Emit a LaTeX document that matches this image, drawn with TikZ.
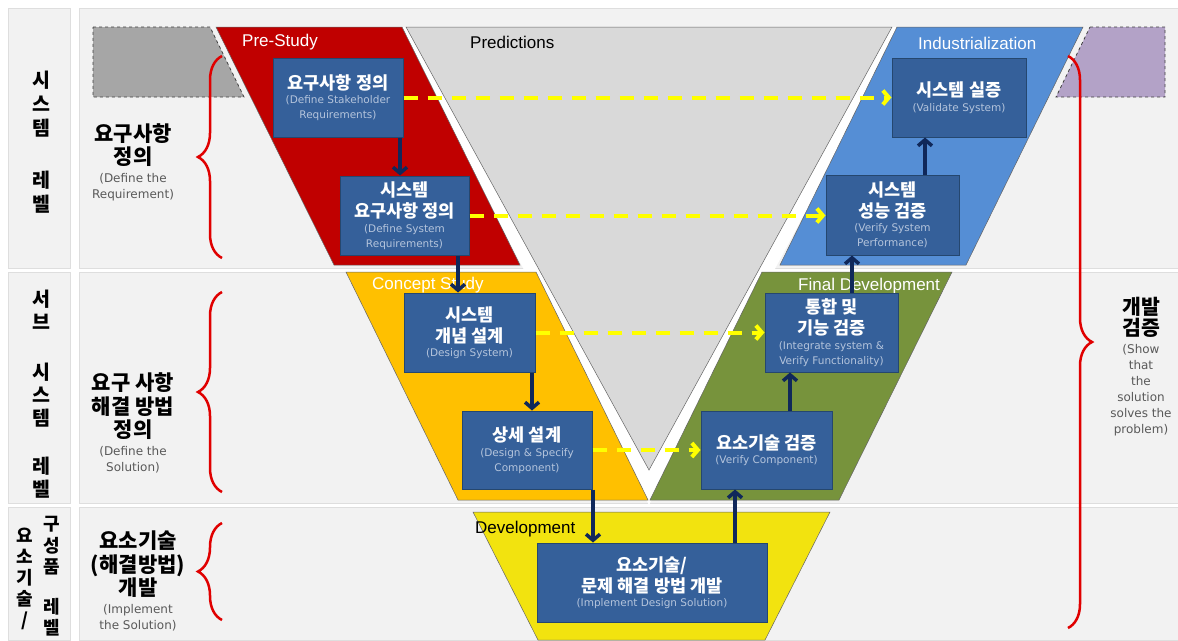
\documentclass[tikz,border=0pt]{standalone}
\usepackage{fontspec}
\setmainfont{Liberation Sans}
\newfontfamily\kr{Noto Sans CJK KR}
\newfontfamily\lat{DejaVu Sans}
\usetikzlibrary{arrows.meta,decorations.pathreplacing}

\definecolor{panel}{HTML}{F2F2F2}
\definecolor{panelline}{HTML}{DEDEDE}
\definecolor{stone}{HTML}{A6A6A6}
\definecolor{lilac}{HTML}{B3A2C7}
\definecolor{prestudy}{HTML}{C00000}
\definecolor{concept}{HTML}{FFC000}
\definecolor{finaldev}{HTML}{77933C}
\definecolor{industrial}{HTML}{558ED5}
\definecolor{develop}{HTML}{F2E30F}
\definecolor{predict}{HTML}{D9D9D9}
\definecolor{taskfill}{HTML}{35609A}
\definecolor{taskline}{HTML}{25476F}
\definecolor{subtext}{HTML}{B4C4DC}
\definecolor{navy}{HTML}{10285A}
\definecolor{checkyellow}{HTML}{FFFF00}
\definecolor{bracered}{HTML}{E00000}
\definecolor{note}{HTML}{595959}

% small english lines
\newcommand{\en}[1]{{\lat\fontsize{10.5}{12}\selectfont\mdseries\color{subtext}#1}}
\newcommand{\gr}[1]{{\lat\fontsize{12}{14}\selectfont\mdseries\color{note}#1}}

\tikzset{
  phase/.style={draw=black!60, line width=0.5pt},
  ghost/.style={draw=black!75, dashed, line width=0.8pt},
  task/.style={draw=taskline, fill=taskfill, line width=1pt, inner sep=0pt,
    align=center, text=white, font=\kr\fontsize{17.5}{21}\selectfont\bfseries},
  phasename/.style={font=\fontsize{17}{20}\selectfont, inner sep=0pt, anchor=west},
  levelname/.style={font=\kr\fontsize{21}{23.5}\selectfont\bfseries, align=center, inner sep=0pt},
  vlevel/.style={font=\kr\fontsize{19.5}{24}\selectfont\bfseries, align=center, inner sep=0pt},
  flow/.style={draw=navy, line width=3.5pt, -{Straight Barb[length=6pt,width=14pt]}},
  check/.style={draw=checkyellow, line width=4pt, dash pattern=on 14pt off 10pt,
    -{Straight Barb[length=6pt,width=14pt]}},
  span/.style={draw=bracered, line width=2.5pt, decorate, decoration={brace, amplitude=24pt}},
}

\begin{document}
\begin{tikzpicture}[x=1pt,y=-1pt]
\useasboundingbox (0,0) rectangle (1178,640);
\fill[white] (0,0) rectangle (1178,640);
% rows
\foreach \ya/\yb in {8/268, 272/503, 507/640} {
  \draw[panelline, fill=panel] (8,\ya) rectangle (70,\yb);
  \draw[panelline, fill=panel] (79,\ya) rectangle (1178,\yb);
}

% V shapes
\draw[ghost, fill=stone] (93,27) -- (210,27) -- (244,97) -- (93,97) -- cycle;
\draw[ghost, fill=lilac] (1090,27) -- (1165,27) -- (1165,97) -- (1056,97) -- cycle;
\fill[white] (395,27) -- (904,27) -- (649,505) -- cycle;
\draw[phase, fill=prestudy] (216,27) -- (402,27) -- (520,265) -- (334,265) -- cycle;
\draw[phase, fill=industrial] (897,27) -- (1083,27) -- (966,265) -- (780,265) -- cycle;
\draw[phase, fill=concept] (346,272) -- (536,272) -- (648,500) -- (458,500) -- cycle;
\draw[phase, fill=finaldev] (762,272) -- (952,272) -- (839,500) -- (650,500) -- cycle;
\draw[phase, fill=develop] (473,512) -- (830,512) -- (765,640) -- (538,640) -- cycle;
\draw[phase, fill=predict] (406,27) -- (892,27) -- (649,470) -- cycle;

\node[phasename, text=white] (pre) at (242,42) {Pre-Study};
\node[phasename] (pred) at (470,42) {Predictions};
\node[phasename, text=white] (ind) at (918,43) {Industrialization};
\node[phasename, text=white] (con) at (372,285) {Concept Study};
\node[phasename, text=white] (fin) at (798,286) {Final Development};
\node[phasename] (dev) at (475,529) {Development};

% tasks
\node[task, minimum width=130pt, minimum height=79pt] (sreq) at (338,97.5)
  {요구사항 정의\\[-6.5pt]\en{(Define Stakeholder}\\[-6pt]\en{Requirements)}};
\node[task, minimum width=129pt, minimum height=79pt] (sysreq) at (404.5,215.5)
  {시스템\\요구사항 정의\\[-6.5pt]\en{(Define System}\\[-6pt]\en{Requirements)}};
\node[task, minimum width=134pt, minimum height=79pt] (valid) at (959,97.5)
  {시스템 실증\\[-6.5pt]\en{(Validate System)}};
\node[task, minimum width=133pt, minimum height=80pt] (perf) at (892.5,215)
  {시스템\\성능 검증\\[-6.5pt]\en{(Verify System}\\[-6pt]\en{Performance)}};
\node[task, minimum width=131pt, minimum height=79pt] (design) at (469.5,332.5)
  {시스템\\개념 설계\\[-6.5pt]\en{(Design System)}};
\node[task, minimum width=130pt, minimum height=78pt] (detail) at (527,450)
  {상세 설계\\[-6.5pt]\en{(Design \& Specify}\\[-6pt]\en{Component)}};
\node[task, minimum width=133pt, minimum height=79pt] (integ) at (831.5,332.5)
  {통합 및\\기능 검증\\[-6.5pt]\en{(Integrate system \&}\\[-6pt]\en{Verify Functionality)}};
\node[task, minimum width=131pt, minimum height=78pt] (vcomp) at (766.5,450)
  {요소기술 검증\\[-6.5pt]\en{(Verify Component)}};
\node[task, minimum width=230pt, minimum height=79pt] (impl) at (652,582.5)
  {요소기술/\\문제 해결 방법 개발\\[-6.5pt]\en{(Implement Design Solution)}};

% left branch down, right branch up
\draw[flow] (sreq.south -| 400,0) -- (sysreq.north -| 400,0);
\draw[flow] (sysreq.south -| 458,0) -- (design.north -| 458,0);
\draw[flow] (design.south -| 532,0) -- (detail.north -| 532,0);
\draw[flow] (detail.south -| 593,0) -- (impl.north -| 593,0);
\draw[flow] (impl.north -| 735,0) -- (vcomp.south -| 735,0);
\draw[flow] (vcomp.north -| 790,0) -- (integ.south -| 790,0);
\draw[flow] (integ.north -| 852,0) -- (perf.south -| 852,0);
\draw[flow] (perf.north -| 925,0) -- (valid.south -| 925,0);

% verification links
\draw[check] (sreq.east) -- (valid.west);
\draw[check] (sysreq.east) -- (perf.west |- sysreq.east);
\draw[check] (design.east) -- (integ.west);
\draw[check] (detail.east) -- (vcomp.west);

% levels
\node[vlevel] (colsys) at (41,142) {시\\스\\템\\[28pt]레\\벨};
\node[vlevel, font=\kr\fontsize{19.5}{23}\selectfont\bfseries] (colsub) at (41,394.5)
  {서\\브\\[27pt]시\\스\\템\\[25pt]레\\벨};
\node[vlevel, font=\kr\fontsize{18}{21}\selectfont\bfseries] (colpart) at (25,578.5)
  {요\\소\\기\\술\\/};
\node[vlevel, font=\kr\fontsize{18}{21.5}\selectfont\bfseries] (colcomp) at (52,576.5)
  {구\\성\\품\\[18pt]레\\벨};

\node[levelname] (lvlreq) at (133,162)
  {요구사항\\정의\\[-6pt]\gr{(Define the}\\[-7.5pt]\gr{Requirement)}};
\node[levelname] (lvlsol) at (133,423)
  {요구 사항\\해결 방법\\정의\\[-6pt]\gr{(Define the}\\[-7.5pt]\gr{Solution)}};
\node[levelname] (lvlimp) at (138,581)
  {요소기술\\(해결방법)\\개발\\[-6pt]\gr{(Implement}\\[-7.5pt]\gr{the Solution)}};
\node[levelname, font=\kr\fontsize{20.5}{21}\selectfont\bfseries] (lvlchk) at (1141,367)
  {개발\\검증\\[-3pt]\gr{(Show}\\[-5pt]\gr{that}\\[-5pt]\gr{the}\\[-5pt]\gr{solution}\\[-5pt]\gr{solves the}\\[-5pt]\gr{problem)}};

\draw[span] (222,258) -- (222,56);
\draw[span] (222,492) -- (222,292);
\draw[span] (222,620) -- (222,523);
\draw[span] (1068,56) -- (1068,628);
\end{tikzpicture}
\end{document}
